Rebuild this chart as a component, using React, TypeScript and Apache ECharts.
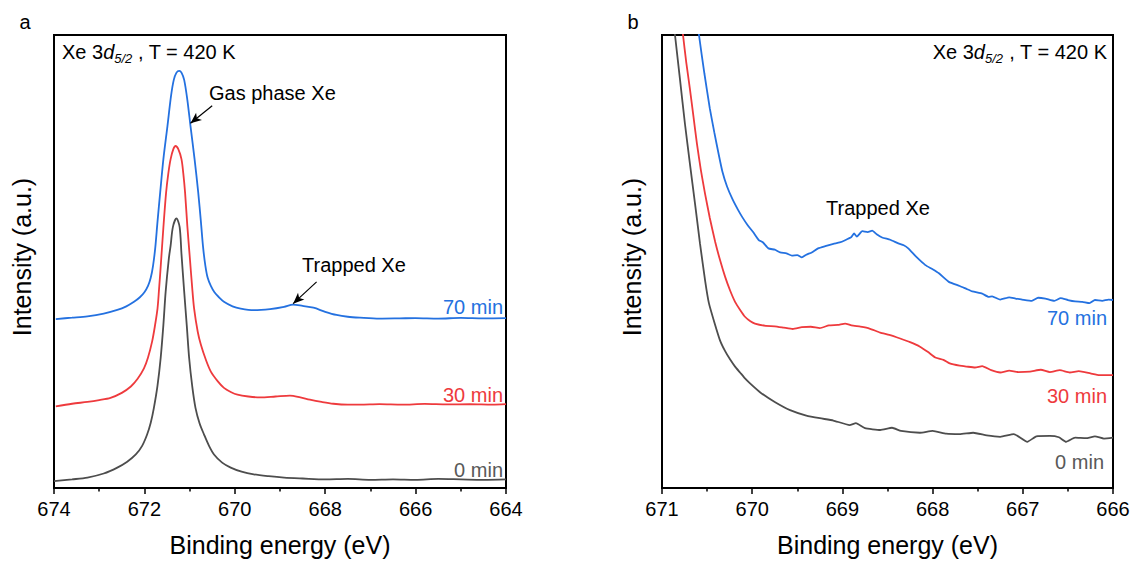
import React, { useEffect, useRef } from "react";
import * as echarts from "echarts";

const FONT = "Liberation Sans, Arial, sans-serif";

// Panel a: Xe 3d5/2, binding energy (eV) vs intensity (a.u.)
const aTicks = [674, 672, 670, 668, 666, 664];
const a0min: number[][] = [
  [674.0, 1.5], [673.6, 1.9], [673.26, 2.3], [672.9, 3.2], [672.6, 4.5], [672.38, 5.8], [672.19, 7.4],
  [672.05, 9.3], [671.94, 11.8], [671.86, 14.4], [671.79, 17.7], [671.71, 22.6], [671.64, 28.7],
  [671.58, 36.0], [671.53, 43.3], [671.46, 50.6], [671.42, 53.5], [671.37, 57.6], [671.29, 59.5],
  [671.22, 57.6], [671.18, 51.7], [671.12, 43.4], [671.06, 35.5], [671.01, 28.7], [670.94, 22.3],
  [670.87, 17.7], [670.78, 14.3], [670.68, 11.8], [670.57, 9.3], [670.46, 7.4], [670.28, 5.6],
  [670.09, 4.5], [669.85, 3.6], [669.58, 3.0], [669.25, 2.6], [668.91, 2.3], [668.5, 2.1], [668.0, 1.9],
  [667.5, 2.0], [667.0, 1.8], [666.5, 1.9], [666.0, 1.8], [665.5, 2.0], [665.0, 1.9], [664.5, 1.8], [664.0, 1.9],
];
const a30min: number[][] = [
  [673.96, 18.0], [673.6, 18.6], [673.26, 19.0], [673.0, 19.4], [672.75, 19.9], [672.5, 21.0], [672.3, 22.4],
  [672.15, 24.1], [672.01, 26.4], [671.92, 28.8], [671.83, 32.3], [671.77, 35.6], [671.71, 39.6],
  [671.675, 44.0], [671.64, 48.8], [671.58, 57.5], [671.52, 65.2], [671.47, 69.5], [671.42, 72.6],
  [671.36, 74.8], [671.31, 75.5], [671.25, 74.8], [671.18, 72.6], [671.14, 69.5], [671.1, 65.2],
  [671.05, 57.8], [670.99, 50.2], [670.945, 44.5], [670.9, 39.6], [670.82, 34.5], [670.75, 31.6],
  [670.64, 28.3], [670.53, 25.7], [670.38, 23.6], [670.24, 22.1], [670.09, 21.2], [669.94, 20.6],
  [669.7, 20.2], [669.44, 20.0], [669.1, 20.2], [668.78, 20.4], [668.55, 20.0], [668.34, 19.5],
  [668.08, 19.0], [667.82, 18.6], [667.5, 18.4], [667.23, 18.4], [666.8, 18.5], [666.3, 18.4],
  [665.8, 18.55], [665.3, 18.45], [664.8, 18.5], [664.3, 18.4], [664.0, 18.5],
];
const a70min: number[][] = [
  [673.96, 37.3], [673.6, 37.6], [673.26, 37.9], [672.9, 38.5], [672.6, 39.3], [672.4, 40.1], [672.23, 41.1],
  [672.1, 42.1], [672.0, 43.2], [671.92, 44.6], [671.86, 46.4], [671.81, 49.0], [671.76, 53.0],
  [671.71, 58.8], [671.65, 65.3], [671.58, 72.6], [671.49, 79.9], [671.41, 86.6], [671.35, 90.1],
  [671.29, 91.7], [671.23, 92.1], [671.18, 91.7], [671.12, 90.1], [671.05, 85.7], [670.98, 79.9],
  [670.89, 72.6], [670.81, 65.3], [670.75, 58.8], [670.7, 53.0], [670.65, 49.0], [670.6, 46.4],
  [670.53, 44.6], [670.45, 43.2], [670.35, 42.1], [670.24, 41.1], [670.05, 40.1], [669.87, 39.6],
  [669.58, 39.25], [669.22, 39.5], [668.91, 40.0], [668.71, 40.5], [668.5, 40.2], [668.26, 39.8],
  [668.0, 38.9], [667.75, 38.2], [667.5, 37.8], [667.23, 37.6], [666.8, 37.4], [666.35, 37.45],
  [666.0, 37.5], [665.5, 37.4], [665.0, 37.55], [664.5, 37.45], [664.0, 37.5],
];

// Panel b: zoom on the trapped Xe region
const bTicks = [671, 670, 669, 668, 667, 666];
const b0min: number[][] = [
  [670.87, 103], [670.856, 100], [670.8, 90.1], [670.745, 80.3], [670.69, 71.5], [670.634, 62.8],
  [670.579, 54.0], [670.52, 45.5], [670.48, 40.8], [670.42, 36.6], [670.357, 32.6], [670.3, 30.2],
  [670.246, 28.4], [670.19, 26.8], [670.135, 25.5], [670.08, 24.2], [670.024, 23.1], [669.91, 21.1],
  [669.75, 19.0], [669.58, 17.2], [669.4, 16.0], [669.25, 15.4], [669.1, 14.9], [668.92, 13.9],
  [668.85, 14.3], [668.75, 13.2], [668.58, 12.8], [668.45, 13.3], [668.35, 12.6], [668.14, 12.2],
  [668.0, 12.6], [667.85, 12.0], [667.7, 11.9], [667.55, 12.2], [667.4, 11.6], [667.25, 11.3],
  [667.1, 11.9], [666.95, 10.2], [666.85, 11.4], [666.7, 11.5], [666.6, 11.2], [666.52, 10.2],
  [666.42, 11.1], [666.3, 11.0], [666.2, 11.4], [666.1, 10.9], [666.0, 11.1],
];
const b30min: number[][] = [
  [670.78, 103], [670.767, 100], [670.73, 93.8], [670.69, 88.0], [670.65, 81.8], [670.612, 75.9],
  [670.57, 70.3], [670.523, 65.0], [670.47, 59.6], [670.41, 54.3], [670.355, 50.2], [670.3, 46.6],
  [670.245, 43.6], [670.19, 41.1], [670.13, 39.2], [670.08, 37.8], [670.02, 36.8], [669.97, 36.3],
  [669.85, 35.8], [669.75, 35.7], [669.65, 35.4], [669.55, 35.1], [669.45, 35.5], [669.35, 35.6],
  [669.25, 35.3], [669.15, 35.9], [669.05, 36.0], [668.97, 36.3], [668.9, 35.9], [668.8, 35.6],
  [668.7, 35.2], [668.58, 34.3], [668.48, 33.8], [668.36, 33.0], [668.25, 32.2], [668.14, 31.2],
  [668.05, 30.0], [667.97, 28.8], [667.88, 28.3], [667.81, 27.5], [667.7, 27.0], [667.62, 26.8],
  [667.53, 26.6], [667.45, 26.9], [667.35, 26.0], [667.25, 25.5], [667.15, 25.9], [667.05, 25.6],
  [666.92, 25.7], [666.8, 26.1], [666.7, 25.6], [666.59, 26.0], [666.48, 25.5], [666.38, 25.8],
  [666.25, 25.3], [666.15, 24.9], [666.0, 24.9],
];
const b70min: number[][] = [
  [670.66, 112], [670.59, 100], [670.53, 91.5], [670.47, 83.8], [670.42, 78.5], [670.37, 73.5],
  [670.33, 69.8], [670.28, 66.6], [670.22, 63.8], [670.16, 61.5], [670.11, 59.8], [670.05, 58.0],
  [669.99, 56.5], [669.93, 54.8], [669.88, 54.2], [669.82, 52.9], [669.75, 52.6], [669.69, 52.0],
  [669.62, 51.8], [669.56, 51.3], [669.5, 51.4], [669.45, 50.9], [669.4, 51.5], [669.34, 52.0],
  [669.27, 52.9], [669.19, 53.4], [669.1, 53.9], [669.03, 54.2], [668.97, 54.7], [668.9, 55.4],
  [668.87, 56.2], [668.84, 55.5], [668.78, 56.7], [668.72, 56.5], [668.67, 56.8], [668.62, 56.0],
  [668.56, 55.3], [668.47, 54.8], [668.38, 54.0], [668.32, 53.6], [668.27, 52.9], [668.18, 51.0],
  [668.08, 49.2], [668.0, 48.3], [667.93, 47.4], [667.82, 45.5], [667.7, 44.6], [667.63, 44.0],
  [667.56, 43.4], [667.45, 42.9], [667.38, 42.2], [667.34, 42.3], [667.25, 41.6], [667.15, 42.1],
  [667.08, 41.8], [667.01, 41.6], [666.9, 41.3], [666.83, 42.0], [666.75, 41.8], [666.65, 41.3],
  [666.58, 41.9], [666.5, 41.5], [666.42, 41.2], [666.34, 41.1], [666.26, 40.8], [666.2, 41.5],
  [666.12, 41.3], [666.05, 41.6], [666.0, 41.5],
];

// Annotation arrows (data coordinates): [from, to]
const gasArrow = [[670.5, 84.4], [670.98, 80.5]];
const trappedArrow = [[668.19, 45.5], [668.71, 40.7]];

const GRAY = "#4d4d4d";
const RED = "#ee3a3d";
const BLUE = "#2471e0";

const xAxisCommon = {
  type: "value",
  inverse: true,
  axisLine: { show: true, lineStyle: { color: "#000", width: 2 } },
  axisTick: { show: true, inside: false, length: 6, lineStyle: { color: "#000", width: 1.5 } },
  minorTick: { show: true, splitNumber: 2, length: 3.5, lineStyle: { color: "#000", width: 1.5 } },
  axisLabel: { color: "#000", fontSize: 20, fontFamily: FONT, margin: 11 },
  splitLine: { show: false },
  minorSplitLine: { show: false },
  name: "Binding energy (eV)",
  nameLocation: "middle",
  nameGap: 44,
  nameTextStyle: { color: "#000", fontSize: 25, fontFamily: FONT },
};
const yAxisCommon = {
  type: "value",
  min: 0,
  max: 100,
  axisLine: { show: false },
  axisTick: { show: false },
  axisLabel: { show: false },
  splitLine: { show: false },
};

function lineSeries(name: string, data: number[][], color: string, idx: number, extra: any = {}) {
  return {
    name,
    type: "line",
    xAxisIndex: idx,
    yAxisIndex: idx,
    data,
    showSymbol: false,
    symbol: "none",
    smooth: 0.3,
    clip: true,
    lineStyle: { color, width: 1.8 },
    emphasis: { disabled: true },
    ...extra,
  };
}

function arrowLine(arrow: number[][]) {
  return {
    silent: true,
    symbol: ["none", "arrow"],
    symbolSize: [7, 11],
    label: { show: false },
    lineStyle: { color: "#000", width: 1.2, type: "solid" },
    emphasis: { disabled: true },
    data: [[{ coord: arrow[0] }, { coord: arrow[1] }]],
  };
}

function txt(x: number, y: number, text: string, fill: string, align = "left", fontSize = 20, extra: any = {}) {
  return {
    type: "text",
    x,
    y,
    silent: true,
    ...extra,
    style: { text, fill, fontSize, fontFamily: FONT, align, verticalAlign: "middle" },
  };
}

function titleText(x: number, align: string) {
  return {
    type: "text",
    x,
    y: 52,
    silent: true,
    style: {
      text: "{n|Xe 3}{i|d}{s|5/2}{n| , T = 420 K}",
      align,
      verticalAlign: "middle",
      fill: "#000",
      fontFamily: FONT,
      fontSize: 20,
      rich: {
        n: { fontSize: 20, fontFamily: FONT, fill: "#000", lineHeight: 26 },
        i: { fontSize: 20, fontFamily: FONT, fill: "#000", fontStyle: "italic", lineHeight: 26 },
        s: { fontSize: 13, fontFamily: FONT, fill: "#000", fontStyle: "italic", lineHeight: 8, verticalAlign: "bottom" },
      },
    },
  };
}

export default function App() {
  const ref = useRef<HTMLDivElement>(null);
  useEffect(() => {
    if (!ref.current) return;
    const chart = echarts.init(ref.current, null, { renderer: "svg" });
    const option: any = {
      animation: false,
      backgroundColor: "#fff",
      grid: [
        { left: 54, top: 35, width: 452, height: 455.5, show: true, borderColor: "#000", borderWidth: 2, backgroundColor: "transparent" },
        { left: 662, top: 35, width: 451, height: 456.5, show: true, borderColor: "#000", borderWidth: 2, backgroundColor: "transparent" },
      ],
      xAxis: [
        { ...xAxisCommon, gridIndex: 0, min: aTicks[aTicks.length - 1], max: aTicks[0], interval: 2 },
        { ...xAxisCommon, gridIndex: 1, min: bTicks[bTicks.length - 1], max: bTicks[0], interval: 1 },
      ],
      yAxis: [
        { ...yAxisCommon, gridIndex: 0 },
        { ...yAxisCommon, gridIndex: 1 },
      ],
      series: [
        lineSeries("0 min", a0min, GRAY, 0),
        lineSeries("30 min", a30min, RED, 0),
        lineSeries("70 min", a70min, BLUE, 0, { markLine: arrowLine(gasArrow) }),
        lineSeries("0 min b", b0min, GRAY, 1, { smooth: 0.15 }),
        lineSeries("30 min b", b30min, RED, 1, { smooth: 0.15 }),
        lineSeries("70 min b", b70min, BLUE, 1, { smooth: 0.15 }),
        {
          type: "line",
          xAxisIndex: 0,
          yAxisIndex: 0,
          data: [],
          markLine: arrowLine(trappedArrow),
        },
      ],
      graphic: [
        txt(25, 22, "a", "#000", "center", 20),
        txt(633, 22, "b", "#000", "center", 20),
        txt(22, 257, "Intensity (a.u.)", "#000", "center", 25, { rotation: Math.PI / 2 }),
        txt(632, 257, "Intensity (a.u.)", "#000", "center", 25, { rotation: Math.PI / 2 }),
        titleText(62, "left"),
        titleText(1107, "right"),
        txt(209, 93, "Gas phase Xe", "#000", "left", 20),
        txt(302, 265, "Trapped Xe", "#000", "left", 20),
        txt(503, 307, "70 min", BLUE, "right", 20),
        txt(503, 395, "30 min", RED, "right", 20),
        txt(503, 470, "0 min", "#595959", "right", 20),
        txt(878, 208, "Trapped Xe", "#000", "center", 20),
        txt(1107, 318, "70 min", BLUE, "right", 20),
        txt(1107, 396, "30 min", RED, "right", 20),
        txt(1104, 462, "0 min", "#595959", "right", 20),
      ],
    };
    chart.setOption(option);
    return () => chart.dispose();
  }, []);
  return (
    <div
      ref={ref}
      style={{ position: "fixed", left: 0, top: 0, width: 1133, height: 562, background: "#fff" }}
    />
  );
}
